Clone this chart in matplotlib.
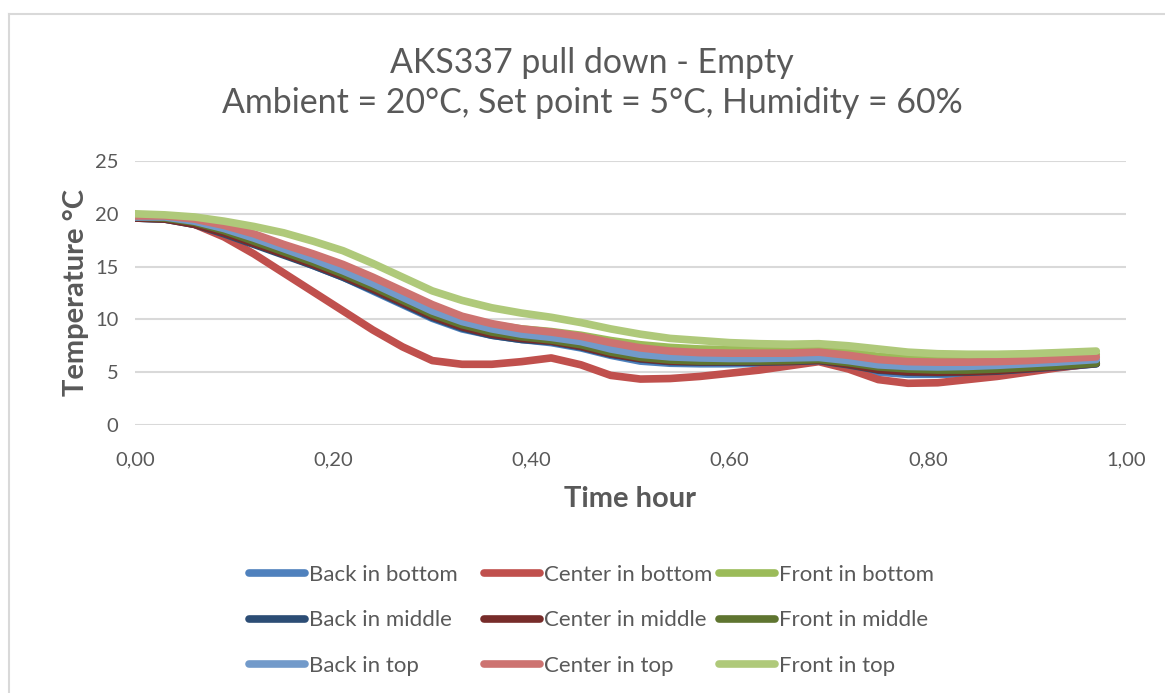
import matplotlib
matplotlib.use("Agg")
import matplotlib.pyplot as plt
from matplotlib.lines import Line2D

plt.rcParams['font.family'] = ['Lato', 'DejaVu Sans']

time_h = [0.00, 0.03, 0.06, 0.09, 0.12, 0.15, 0.18, 0.21, 0.24, 0.27, 0.30,
          0.33, 0.36, 0.39, 0.42, 0.45, 0.48, 0.51, 0.54, 0.57, 0.60, 0.63,
          0.66, 0.69, 0.72, 0.75, 0.78, 0.81, 0.84, 0.87, 0.90, 0.93, 0.97]

back_bottom = [19.6, 19.5, 19.1, 18.3, 17.3, 16.2, 15.1, 14.0, 12.7, 11.4, 10.1,
               9.1, 8.5, 8.1, 7.8, 7.3, 6.6, 6.05, 5.85, 5.8, 5.8, 5.85,
               5.9, 6.1, 5.6, 5.0, 4.8, 4.8, 4.85, 5.0, 5.2, 5.45, 5.8]
center_bottom = [19.6, 19.6, 19.0, 17.8, 16.2, 14.4, 12.6, 10.8, 9.0, 7.4, 6.1,
                 5.75, 5.75, 6.0, 6.35, 5.7, 4.7, 4.35, 4.4, 4.6, 4.9, 5.2,
                 5.6, 6.0, 5.3, 4.3, 3.95, 4.0, 4.3, 4.6, 5.0, 5.4, 5.85]
front_bottom = [19.9, 19.8, 19.5, 18.9, 18.0, 17.0, 16.0, 15.0, 13.8, 12.5, 11.2,
                10.2, 9.5, 9.1, 8.85, 8.5, 8.0, 7.6, 7.35, 7.2, 7.15, 7.1,
                7.1, 7.15, 6.9, 6.5, 6.3, 6.2, 6.2, 6.25, 6.35, 6.5, 6.7]
back_middle = [19.6, 19.5, 19.0, 18.1, 17.1, 16.1, 15.1, 14.0, 12.8, 11.5, 10.2,
               9.2, 8.5, 8.1, 7.9, 7.4, 6.7, 6.25, 6.0, 5.95, 5.95, 5.95,
               6.0, 6.1, 5.7, 5.2, 5.0, 4.95, 5.0, 5.1, 5.3, 5.5, 5.8]
center_middle = [19.6, 19.5, 19.0, 18.2, 17.2, 16.2, 15.2, 14.1, 12.9, 11.6, 10.3,
                 9.3, 8.6, 8.2, 7.95, 7.45, 6.75, 6.3, 6.05, 6.0, 6.0, 6.0,
                 6.05, 6.15, 5.75, 5.25, 5.05, 5.0, 5.05, 5.15, 5.35, 5.55, 5.85]
front_middle = [19.7, 19.6, 19.2, 18.4, 17.4, 16.4, 15.4, 14.3, 13.1, 11.8, 10.5,
                9.5, 8.8, 8.35, 8.05, 7.6, 6.9, 6.4, 6.15, 6.05, 6.05, 6.05,
                6.1, 6.2, 5.9, 5.5, 5.3, 5.2, 5.2, 5.3, 5.45, 5.6, 5.85]
back_top = [19.7, 19.7, 19.3, 18.6, 17.7, 16.7, 15.7, 14.6, 13.4, 12.1, 10.8,
            9.8, 9.1, 8.6, 8.3, 7.9, 7.2, 6.7, 6.45, 6.35, 6.3, 6.3,
            6.35, 6.4, 6.1, 5.7, 5.55, 5.5, 5.55, 5.65, 5.8, 5.95, 6.2]
center_top = [19.8, 19.8, 19.5, 18.9, 18.1, 17.1, 16.2, 15.2, 14.0, 12.7, 11.4,
              10.3, 9.6, 9.1, 8.8, 8.4, 7.8, 7.3, 7.0, 6.85, 6.8, 6.8,
              6.8, 6.9, 6.6, 6.2, 6.0, 5.95, 5.95, 6.0, 6.1, 6.25, 6.45]
front_top = [20.0, 19.9, 19.7, 19.3, 18.8, 18.2, 17.4, 16.5, 15.3, 14.0, 12.7,
             11.8, 11.1, 10.6, 10.2, 9.7, 9.1, 8.6, 8.2, 8.0, 7.8, 7.7,
             7.65, 7.7, 7.5, 7.2, 6.9, 6.75, 6.7, 6.7, 6.75, 6.85, 7.0]

series_names = ["Back in bottom", "Center in bottom", "Front in bottom",
                "Back in middle", "Center in middle", "Front in middle",
                "Back in top", "Center in top", "Front in top"]
series_values = [back_bottom, center_bottom, front_bottom,
                 back_middle, center_middle, front_middle,
                 back_top, center_top, front_top]
series_colors = ["#4F81BD", "#C0504D", "#9BBB59",
                 "#2C4D75", "#772C2A", "#5F7530",
                 "#729ACA", "#CD7371", "#AFC97A"]

x_ticks = [0.0, 0.2, 0.4, 0.6, 0.8, 1.0]
x_tick_labels = ["0,00", "0,20", "0,40", "0,60", "0,80", "1,00"]
y_ticks = [0, 5, 10, 15, 20, 25]

title = "AKS337 pull down - Empty\nAmbient = 20°C, Set point = 5°C, Humidity = 60%"
xlabel = "Time hour"
ylabel = "Temperature °C"

text_color = "#595959"
grid_color = "#D9D9D9"

W, H = 1165, 693
fig = plt.figure(figsize=(W / 100, H / 100), dpi=100)
ax = fig.add_axes([135 / W, 1 - 425 / H, (1126 - 135) / W, (425 - 161) / H])

handles = []
for name, vals, col in zip(series_names, series_values, series_colors):
    h, = ax.plot(time_h, vals, color=col, lw=5.5, solid_capstyle='round',
                 solid_joinstyle='round', label=name)
    handles.append(h)

ax.set_xlim(0, 1.0)
ax.set_ylim(0, 25)
ax.set_xticks(x_ticks)
ax.set_xticklabels(x_tick_labels)
ax.set_yticks(y_ticks)
ax.grid(axis='y', color=grid_color, lw=1.5)
ax.set_axisbelow(True)
for s in ax.spines.values():
    s.set_visible(False)
ax.tick_params(length=0, labelsize=14.5, colors=text_color)
ax.tick_params(axis='x', pad=19)
ax.tick_params(axis='y', pad=12)

ax.set_xlabel(xlabel, fontsize=21, fontweight='bold', color=text_color, labelpad=13)
ax.set_ylabel(ylabel, fontsize=21, fontweight='bold', color=text_color, labelpad=4)

fig.text(592 / W, 1 - 83 / H, title, ha='center', va='center', fontsize=24.4,
         color=text_color, linespacing=1.32)

# Chart border (top and left)
fig.add_artist(Line2D([9 / W, 9 / W], [0, 1 - 14 / H], transform=fig.transFigure,
                      color=grid_color, lw=1.5))
fig.add_artist(Line2D([9 / W, 1], [1 - 14 / H, 1 - 14 / H], transform=fig.transFigure,
                      color=grid_color, lw=1.5))

# Legend: three columns, row-major order as in the original
col_x = [249, 484, 719]
for ci in range(3):
    hs = [handles[ci + 3 * r] for r in range(3)]
    leg = fig.legend(handles=hs, labels=[h.get_label() for h in hs],
                     loc='upper left', bbox_to_anchor=(col_x[ci] / W, 1 - 565 / H),
                     frameon=False, fontsize=16, handlelength=2.5, handletextpad=0.2,
                     labelspacing=1.14, borderaxespad=0, borderpad=0)
    for t in leg.get_texts():
        t.set_color(text_color)

fig.savefig("out.png", dpi=100)
